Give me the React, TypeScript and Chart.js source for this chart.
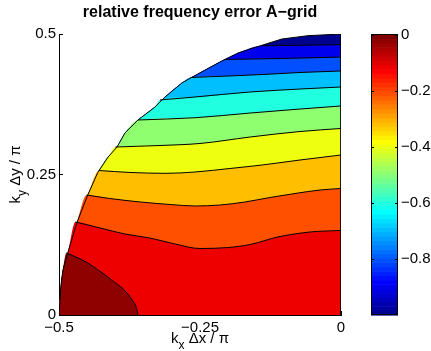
import React, { useEffect, useRef } from "react";
import { Chart, registerables } from "chart.js";

Chart.register(...registerables);

const FONT = "'Liberation Sans', Arial, Helvetica, sans-serif";
Chart.defaults.font.family = FONT;

// ---------- text ----------
const titleText = "relative frequency error A−grid";
const xTickValues = [-0.5, -0.25, 0];
const xTickLabels = ["−0.5", "−0.25", "0"];
const yTickValues = [0, 0.25, 0.5];
const yTickLabels = ["0", "0.25", "0.5"];
const colorbarTickValues = [0, -0.2, -0.4, -0.6, -0.8];
const colorbarTickLabels = ["0", "−0.2", "−0.4", "−0.6", "−0.8"];
const colorbarMin = -1.0;
const colorbarMax = 0.004;

// ---------- domain edge (quarter circle) ----------
const boundaryX = [-0.5, -0.4965, -0.493, -0.484, -0.468, -0.449, -0.431, -0.413, -0.397, -0.383, -0.36, -0.33, -0.312, -0.282, -0.25, -0.215, -0.183, -0.14, -0.105, -0.0585, 0];
const boundaryY = [0, 0.053, 0.08, 0.112, 0.165, 0.2135, 0.254, 0.281, 0.299, 0.324, 0.347, 0.37, 0.388, 0.413, 0.431, 0.45, 0.466, 0.48, 0.491, 0.497, 0.5];

// ---------- contour lines ----------
const contourLevels = [-0.9, -0.8, -0.7, -0.6, -0.5, -0.4, -0.3, -0.2, -0.1, 0];

const levelM09X = [-0.14, -0.07, 0];
const levelM09Y = [0.479, 0.48, 0.481];

const levelM08X = [-0.207, -0.108, 0];
const levelM08Y = [0.4546, 0.4564, 0.459];

const levelM07X = [-0.267, -0.197, -0.131, -0.0727, 0];
const levelM07Y = [0.4226, 0.4253, 0.4283, 0.4315, 0.4342];

const levelM06X = [-0.321, -0.259, -0.161, -0.0727, 0];
const levelM06Y = [0.3826, 0.3879, 0.3968, 0.4021, 0.4057];

const levelM05X = [-0.36, -0.259, -0.161, -0.0727, 0];
const levelM05Y = [0.347, 0.351, 0.3594, 0.3665, 0.3719];

const levelM04X = [-0.4, -0.321, -0.25, -0.161, -0.0727, 0];
const levelM04Y = [0.2989, 0.3016, 0.3052, 0.3167, 0.3265, 0.3319];

const levelM03X = [-0.429, -0.374, -0.312, -0.259, -0.197, -0.14, -0.0727, 0];
const levelM03Y = [0.2571, 0.2536, 0.2521, 0.2544, 0.2607, 0.2669, 0.2758, 0.2847];

const levelM02X = [-0.451, -0.41, -0.356, -0.303, -0.259, -0.215, -0.17, -0.126, -0.0816, -0.0372, 0];
const levelM02Y = [0.2135, 0.2073, 0.2011, 0.1966, 0.194, 0.1957, 0.2011, 0.2091, 0.2162, 0.2224, 0.2251];

const levelM01X = [-0.471, -0.427, -0.383, -0.339, -0.294, -0.25, -0.2, -0.161, -0.112, -0.055, 0];
const levelM01Y = [0.1655, 0.1548, 0.1441, 0.137, 0.1263, 0.1183, 0.1201, 0.1254, 0.1388, 0.1477, 0.1504];

const level00X = [-0.487, -0.466, -0.449, -0.433, -0.418, -0.402, -0.388, -0.378, -0.369, -0.363, -0.36];
const level00Y = [0.1103, 0.1014, 0.0925, 0.0819, 0.0712, 0.0587, 0.048, 0.0374, 0.0249, 0.0142, 0];

const contourXs = [levelM09X, levelM08X, levelM07X, levelM06X, levelM05X, levelM04X, levelM03X, levelM02X, levelM01X, level00X];
const contourYs = [levelM09Y, levelM08Y, levelM07Y, levelM06Y, levelM05Y, levelM04Y, levelM03Y, levelM02Y, levelM01Y, level00Y];

// ---------- styles ----------
// band fill colours (jet, 64 entries), lowest band first
const bandColors = ["#00008F", "#0000EF", "#0050FF", "#00BFFF", "#20FFDF", "#8FFF70", "#EFFF10", "#FFBF00", "#FF5000", "#EF0000", "#8F0000"];

function jet64(i: number): string {
  // i = 1..64, MATLAB jet(64)
  let r = 0, g = 0, b = 0;
  if (i <= 8) { b = (i + 8) / 16; }
  else if (i <= 24) { g = (i - 8) / 16; b = 1; }
  else if (i <= 40) { r = (i - 24) / 16; g = 1; b = (40 - i) / 16; }
  else if (i <= 56) { r = 1; g = (56 - i) / 16; }
  else { r = (72 - i) / 16; }
  const c = (v: number) => Math.round(v * 255);
  return `rgb(${c(r)},${c(g)},${c(b)})`;
}

const pts = (xs: number[], ys: number[]) => xs.map((x, i) => ({ x, y: ys[i] }));

function regionPoints(cx: number[], cy: number[]) {
  const start = cx[0];
  const pre: { x: number; y: number }[] = [];
  for (let i = 0; i < boundaryX.length; i++) {
    if (boundaryX[i] < start - 0.002) pre.push({ x: boundaryX[i], y: boundaryY[i] });
  }
  return pre.concat(pts(cx, cy));
}

type Part = { text: string; size: number; dy: number };
const xLabelParts: Part[] = [
  { text: "k", size: 15, dy: 0 },
  { text: "x", size: 12, dy: 6 },
  { text: " Δx / π", size: 15, dy: 0 },
];
const yLabelParts: Part[] = [
  { text: "k", size: 15, dy: 0 },
  { text: "y", size: 12, dy: 6 },
  { text: " Δy / π", size: 15, dy: 0 },
];

function drawParts(ctx: CanvasRenderingContext2D, parts: Part[], cx: number, baseline: number) {
  const widths = parts.map((p) => {
    ctx.font = `${p.size}px ${FONT}`;
    return ctx.measureText(p.text).width;
  });
  const total = widths.reduce((a, b) => a + b, 0);
  let x = cx - total / 2;
  ctx.textAlign = "left";
  ctx.textBaseline = "alphabetic";
  ctx.fillStyle = "#000";
  parts.forEach((p, i) => {
    ctx.font = `${p.size}px ${FONT}`;
    ctx.fillText(p.text, x, baseline + p.dy);
    x += widths[i];
  });
}

const mainDecor = {
  id: "mainDecor",
  beforeDatasetsDraw(chart: any) {
    // MATLAB axes layer lies beneath the filled contours: inward ticks
    const { ctx, chartArea, scales } = chart;
    ctx.save();
    ctx.strokeStyle = "#000";
    ctx.lineWidth = 1;
    ctx.beginPath();
    yTickValues.forEach((v) => {
      const py = Math.floor(scales.y.getPixelForValue(v)) + 0.5;
      ctx.moveTo(chartArea.left, py);
      ctx.lineTo(chartArea.left + 4, py);
    });
    xTickValues.forEach((v) => {
      const px = Math.floor(scales.x.getPixelForValue(v)) + 0.5;
      ctx.moveTo(px, chartArea.bottom);
      ctx.lineTo(px, chartArea.bottom - 4);
    });
    ctx.stroke();
    ctx.restore();
  },
  afterDraw(chart: any) {
    const { ctx, chartArea } = chart;
    ctx.save();
    drawParts(ctx, xLabelParts, (chartArea.left + chartArea.right) / 2, 343);
    ctx.translate(20, (chartArea.top + chartArea.bottom) / 2);
    ctx.rotate(-Math.PI / 2);
    drawParts(ctx, yLabelParts, 0, 0);
    ctx.restore();
  },
};

const colorbarDecor = {
  id: "colorbarDecor",
  beforeDatasetsDraw(chart: any) {
    const { ctx, chartArea, scales } = chart;
    const s = scales.y;
    ctx.save();
    const n = 64;
    for (let i = 0; i < n; i++) {
      const lo = colorbarMin + (i * (colorbarMax - colorbarMin)) / n;
      const hi = colorbarMin + ((i + 1) * (colorbarMax - colorbarMin)) / n;
      const y0 = s.getPixelForValue(lo);
      const y1 = s.getPixelForValue(hi);
      ctx.fillStyle = jet64(i + 1);
      ctx.fillRect(chartArea.left, y1, chartArea.right - chartArea.left, y0 - y1 + 0.6);
    }
    ctx.strokeStyle = "#000";
    ctx.lineWidth = 1;
    ctx.strokeRect(chartArea.left + 0.5, chartArea.top + 0.5, chartArea.right - chartArea.left - 1, chartArea.bottom - chartArea.top - 1);
    ctx.beginPath();
    colorbarTickValues.forEach((v) => {
      const py = Math.floor(s.getPixelForValue(v)) + 0.5;
      ctx.moveTo(chartArea.left, py);
      ctx.lineTo(chartArea.left + 3, py);
      ctx.moveTo(chartArea.right, py);
      ctx.lineTo(chartArea.right - 3, py);
    });
    ctx.stroke();
    ctx.restore();
  },
};

export default function App() {
  const mainRef = useRef<HTMLCanvasElement>(null);
  const cbRef = useRef<HTMLCanvasElement>(null);

  useEffect(() => {
    const datasets: any[] = [];
    // full domain in the lowest band colour
    datasets.push({
      data: pts(boundaryX, boundaryY),
      fill: "origin",
      backgroundColor: bandColors[0],
      borderColor: "transparent",
      borderWidth: 0,
      tension: 0,
      pointRadius: 0,
      order: 200,
    });
    // each region above a contour level, painted in increasing level order
    contourLevels.forEach((lev, k) => {
      datasets.push({
        label: `≥ ${lev}`,
        data: regionPoints(contourXs[k], contourYs[k]),
        fill: "origin",
        backgroundColor: bandColors[k + 1],
        borderColor: "transparent",
        borderWidth: 0,
        cubicInterpolationMode: "monotone",
        pointRadius: 0,
        order: 199 - k,
      });
    });
    // contour lines
    contourLevels.forEach((lev, k) => {
      datasets.push({
        label: `${lev}`,
        data: pts(contourXs[k], contourYs[k]),
        fill: false,
        borderColor: "#000",
        borderWidth: 1,
        cubicInterpolationMode: "monotone",
        pointRadius: 0,
        order: 2,
      });
    });
    // domain outline incl. the kx = 0 edge
    datasets.push({
      data: pts(boundaryX, boundaryY).concat([{ x: 0, y: 0 }]),
      fill: false,
      borderColor: "#000",
      borderWidth: 1,
      tension: 0,
      pointRadius: 0,
      order: 1,
    });

    const tickFont = { family: FONT, size: 15 };

    const main = new Chart(mainRef.current!, {
      type: "line",
      data: { datasets },
      options: {
        responsive: false,
        animation: false,
        events: [],
        layout: { padding: { left: 0, right: 90, top: 0, bottom: 0 } },
        plugins: {
          legend: { display: false },
          tooltip: { enabled: false },
          title: {
            display: true,
            text: titleText,
            color: "#000",
            font: { family: FONT, size: 16, weight: "bold" },
            padding: { top: 3, bottom: 11.8 },
            fullSize: false,
          },
        },
        scales: {
          x: {
            type: "linear",
            min: -0.5,
            max: 0,
            grid: { display: false, drawTicks: false },
            border: { display: true, color: "#000", width: 1 },
            ticks: {
              color: "#000",
              font: tickFont,
              padding: 4,
              autoSkip: false,
              maxRotation: 0,
              minRotation: 0,
              callback: (v: any) => {
                const i = xTickValues.findIndex((t) => Math.abs(t - v) < 1e-9);
                return i >= 0 ? xTickLabels[i] : "";
              },
            },
            afterBuildTicks: (s: any) => {
              s.ticks = xTickValues.map((value) => ({ value }));
            },
            afterFit: (s: any) => {
              s.height = 36;
            },
          },
          y: {
            type: "linear",
            min: 0,
            max: 0.5,
            grid: { display: false, drawTicks: false },
            border: { display: true, color: "#000", width: 1 },
            ticks: {
              color: "#000",
              font: tickFont,
              padding: 3,
              autoSkip: false,
              callback: (v: any) => {
                const i = yTickValues.findIndex((t) => Math.abs(t - v) < 1e-9);
                return i >= 0 ? yTickLabels[i] : "";
              },
            },
            afterBuildTicks: (s: any) => {
              s.ticks = yTickValues.map((value) => ({ value }));
            },
            afterFit: (s: any) => {
              s.width = 59;
            },
          },
        },
      } as any,
      plugins: [mainDecor],
    });

    const cb = new Chart(cbRef.current!, {
      type: "scatter",
      data: { datasets: [] },
      options: {
        responsive: false,
        animation: false,
        events: [],
        layout: { padding: { left: 11, right: 0, top: 34, bottom: 36 } },
        plugins: { legend: { display: false }, tooltip: { enabled: false } },
        scales: {
          x: { type: "linear", min: 0, max: 1, display: false },
          y: {
            type: "linear",
            position: "right",
            min: colorbarMin,
            max: colorbarMax,
            grid: { display: false, drawTicks: false },
            border: { display: false },
            ticks: {
              color: "#000",
              font: tickFont,
              padding: 3,
              autoSkip: false,
              callback: (v: any) => {
                const i = colorbarTickValues.findIndex((t) => Math.abs(t - v) < 1e-9);
                return i >= 0 ? colorbarTickLabels[i] : "";
              },
            },
            afterBuildTicks: (s: any) => {
              s.ticks = colorbarTickValues.map((value) => ({ value }));
            },
            afterFit: (s: any) => {
              s.width = 33;
            },
          },
        },
      } as any,
      plugins: [colorbarDecor],
    });

    return () => {
      main.destroy();
      cb.destroy();
    };
  }, []);

  return (
    <div style={{ position: "fixed", left: 0, top: 0, width: 431, height: 351, background: "#fff" }}>
      <canvas ref={mainRef} width={431} height={351} style={{ position: "absolute", left: 0, top: 0 }} />
      <canvas ref={cbRef} width={71} height={351} style={{ position: "absolute", left: 360, top: 0 }} />
    </div>
  );
}
